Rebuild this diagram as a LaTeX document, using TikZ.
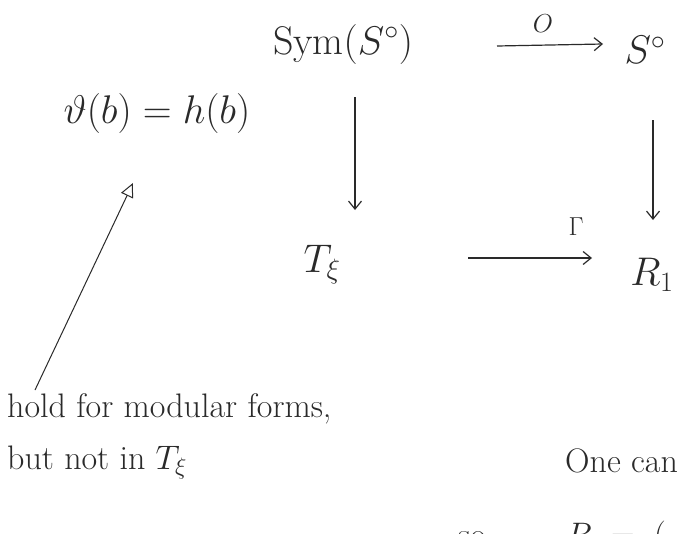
\documentclass[tikz,border=0pt]{standalone}
\usepackage{fix-cm}
\usepackage{fontspec}
\usepackage{xcolor}
\usepackage{tikz}
\usetikzlibrary{arrows.meta, calc}
\definecolor{InkGrey}{RGB}{42, 42, 42}

\tikzset{
  obj/.style={inner sep=0pt, font=\fontsize{40}{44}\selectfont},
  lbl/.style={inner sep=0pt, font=\fontsize{26}{30}\selectfont},
  note/.style={inner sep=0pt, align=left, font=\fontsize{34}{52}\selectfont},
  mapto/.style={-{Straight Barb[length=8pt,width=13pt]}, line width=1.2pt},
  hint/.style={-{Triangle[open,length=14pt,width=13pt]}, line width=1pt}
}

\begin{document}
\begin{tikzpicture}[x=1pt,y=-1pt,InkGrey]
  \useasboundingbox (0,0) rectangle (698,533);
  \fill[white] (0,0) rectangle (698,533);
  \clip (0,0) rectangle (698,533);
  \node[obj] (sym) at (343,44) {$\mathrm{Sym}(S^\circ)$};
  \node[obj] (so) at (645,50) {$S^\circ$};
  \node[obj] (theta) at (157,113) {$\vartheta(b)=h(b)$};
  \node[obj] (tx) at (322,265) {$T_\xi$};
  \node[obj] (rone) at (652,275) {$R_1$};
  \node[lbl] (olbl) at (543,24) {$O$};
  \node[lbl] (glbl) at (576,227) {$\Gamma$};
  \node[note, anchor=north west] (hold) at (7,393) {hold for modular forms,\\but not in $T_\xi$};
  \node[note, anchor=base west] (onecan) at (565,472) {One can};
  \node[note, anchor=base west] (soR) at (458,546) {so\hspace{80pt}$R \;=\; ($};
  \draw[mapto] ($(sym)+(154,2)$) -- ($(so)+(-42,-6)$);
  \draw[mapto] ($(sym)+(12,53)$) -- ($(tx)+(33,-55)$);
  \draw[mapto] ($(so)+(8,70)$) -- ($(rone)+(1,-55)$);
  \draw[mapto] ($(tx)+(146,-7)$) -- ($(rone)+(-60,-17)$);
  \draw[hint] ($(hold.north west)+(28,-3)$) -- ($(theta)+(-24,70)$);
\end{tikzpicture}
\end{document}
